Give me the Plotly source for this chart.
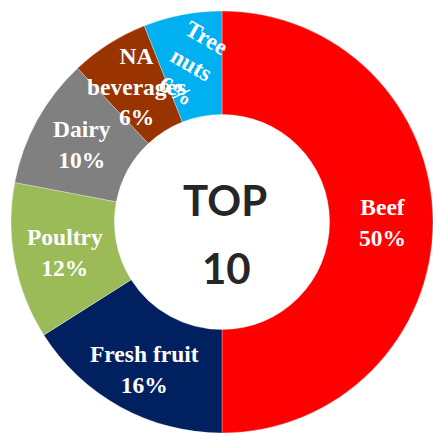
import math
import plotly.graph_objects as go

categories = ["Beef", "Fresh fruit", "Poultry", "Dairy", "NA beverages", "Tree nuts"]
values = [50, 16, 12, 10, 6, 6]
label_lines = [["Beef"], ["Fresh fruit"], ["Poultry"], ["Dairy"], ["NA", "beverages"], ["Tree", "nuts"]]
colors = ["#FF0000", "#002060", "#9BBB59", "#808080", "#993300", "#00B0F0"]
center_text = ["TOP", "10"]

W, H = 433, 434
cx, cy, R = 222, 222, 211
hole = 0.51

fig = go.Figure(go.Pie(
    labels=categories,
    values=values,
    sort=False,
    direction="clockwise",
    rotation=0,
    hole=hole,
    marker=dict(colors=colors, line=dict(color="rgba(255,255,255,0.6)", width=0.5)),
    textinfo="none",
    hoverinfo="label+percent",
    domain=dict(x=[(cx - R) / W, (cx + R) / W], y=[1 - (cy + R) / H, 1 - (cy - R) / H]),
    showlegend=False,
))

total = sum(values)
cum = 0
annotations = []
rmid = R * (1 + hole) / 2 + 1
for cat, v, lines in zip(categories, values, label_lines):
    mid = (cum + v / 2) / total * 2 * math.pi
    cum += v
    px = cx + rmid * math.sin(mid)
    py = cy - rmid * math.cos(mid)
    pct = f"{round(v / total * 100)}%"
    txt = "<br>".join(lines + [pct])
    angle = 30 if cat == "Tree nuts" else 0
    if cat == "Fresh fruit":
        py += 7
    annotations.append(dict(
        x=px / W, y=1 - py / H, xref="paper", yref="paper",
        text=txt, showarrow=False, textangle=angle,
        xanchor="center", yanchor="middle",
        font=dict(family="Liberation Serif", size=23.5, color="white", weight="bold"),
    ))

annotations.append(dict(x=225 / W, y=1 - 200 / H, xref="paper", yref="paper", text=center_text[0],
                        showarrow=False, xanchor="center", yanchor="middle",
                        font=dict(family="Lato", size=42, color="#262626", weight="bold")))
annotations.append(dict(x=226 / W, y=1 - 268 / H, xref="paper", yref="paper", text=center_text[1],
                        showarrow=False, xanchor="center", yanchor="middle",
                        font=dict(family="Lato", size=42, color="#262626", weight="bold")))

fig.update_layout(
    width=W, height=H,
    margin=dict(l=0, r=0, t=0, b=0),
    paper_bgcolor="white", plot_bgcolor="white",
    annotations=annotations,
)

fig.write_html("out.html")
